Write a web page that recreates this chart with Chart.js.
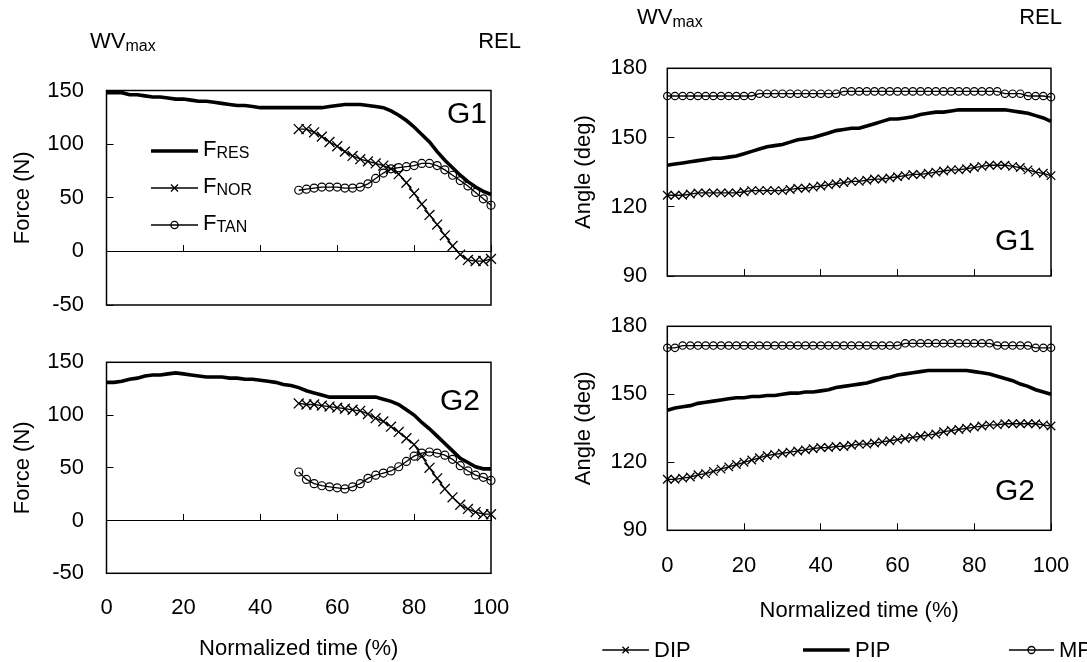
<!DOCTYPE html>
<html><head><meta charset="utf-8">
<script src="https://cdn.jsdelivr.net/npm/chart.js@4.4.1/dist/chart.umd.min.js"></script>
<style>
html,body{margin:0;padding:0;background:#fff;}
#wrap{position:relative;width:1087px;height:662px;overflow:hidden;font-family:"Liberation Sans",Arial,Helvetica,sans-serif;background:#fff;}
canvas{position:absolute;left:0;top:0;width:1200px;height:662px;}
.lbl{position:absolute;font-size:22px;line-height:22px;color:#000;white-space:nowrap;}
.lbl .sb{font-size:16px;position:relative;top:3px;}
</style></head><body>
<div id="wrap">
<canvas id="c1" width="1200" height="662"></canvas>
<canvas id="c2" width="1200" height="662"></canvas>
<canvas id="c3" width="1200" height="662"></canvas>
<canvas id="c4" width="1200" height="662"></canvas>
<div class="lbl" style="left:90px;top:30px">WV<span class="sb">max</span></div>
<div class="lbl" style="right:566px;top:30px">REL</div>
<div class="lbl" style="left:637px;top:6px">WV<span class="sb">max</span></div>
<div class="lbl" style="right:25px;top:6px">REL</div>
</div>
<script>
// ---------- data ----------
const TIME = [0,2,4,6,8,10,12,14,16,18,20,22,24,26,28,30,32,34,36,38,40,42,44,46,48,50,52,54,56,58,60,62,64,66,68,70,72,74,76,78,80,82,84,86,88,90,92,94,96,98,100];
const TIME_LATE = [50,52,54,56,58,60,62,64,66,68,70,72,74,76,78,80,82,84,86,88,90,92,94,96,98,100];
const X_TICKS = [0,20,40,60,80,100];

// Force, G1
const G1_FRES = [148,148,148,146,146,145,144,144,143,142,142,141,140,140,139,138,137,136,136,135,134,134,134,134,134,134,134,134,134,135,136,137,137,137,136,135,134,131,127,122,116,109,102,93,85,78,71,65,60,56,53];
const G1_FNOR = [114,114,111,107,102,98,93,89,86,84,82,80,77,72,64,54,44,34,25,15,5,-3,-8,-9,-9,-7];
const G1_FTAN = [57,58,59,60,60,60,59,59,60,63,68,73,77,78,79,80,82,82,80,76,71,66,61,55,49,43];
// Force, G2
const G2_FRES = [131,131,132,134,135,137,138,138,139,140,139,138,137,136,136,136,135,135,134,134,133,132,131,129,128,126,123,121,119,117,117,117,117,117,117,117,115,113,110,105,100,93,87,80,73,66,59,55,51,49,49];
const G2_FNOR = [111,110,110,109,108,107,106,105,104,101,97,94,89,84,78,72,61,50,40,30,22,15,11,8,6,6];
const G2_FTAN = [46,39,35,33,32,31,30,32,35,40,43,45,47,51,56,61,64,65,64,62,58,52,47,43,41,38];
// Angle, G1
const G1_DIP = [125,125,125,125.5,126,126,126,126,126,126,126.5,127,127,127,127,127,127.5,128,128,128.5,129,129.5,130,130.5,131,131,131.5,132,132,132.5,133,133.5,134,134,134.5,135,135.5,136,136,136.5,137,137.5,138,138,138,137.5,137,136,135,134.5,133.5];
const G1_PIP = [138,138.5,139,139.5,140,140.5,141,141,141.5,142,143,144,145,146,146.5,147,148,149,149.5,150,151,152,153,153.5,154,154,155,156,157,158,158,158.5,159,160,160.5,161,161,161.5,162,162,162,162,162,162,162,161.5,161,160.5,159.5,158.5,157];
const G1_MP = [168,168,168,168,168,168,168,168,168,168,168,168,169,169,169,169,169,169,169,169,169,169,169,170,170,170,170,170,170,170,170,170,170,170,170,170,170,170,170,170,170,170,170,170,169,169,169,168,168,168,167.5];
// Angle, G2
const G2_DIP = [112.5,112.5,113,113.5,114.5,115,116,117,118,119,120,121,122,123,123.5,124,124.5,125,125.5,126,126.5,126.5,127,127,127.5,128,128,128.5,129,129.5,130,130.5,131,131.5,132,132.5,133.5,134,134.5,135,135.5,136,136.5,136.5,137,137,137,137,137,136.5,136];
const G2_PIP = [143,144,144.5,145,146,146.5,147,147.5,148,148.5,148.5,149,149,149.5,149.5,150,150.5,150.5,151,151,151.5,152,153,153.5,154,154.5,155,156,157,157.5,158.5,159,159.5,160,160.5,160.5,160.5,160.5,160.5,160.5,160,159.5,159,158,157,156,154.5,153.5,152,151,150];
const G2_MP = [170.5,170.5,171.5,171.5,171.5,171.5,171.5,171.5,171.5,171.5,171.5,171.5,171.5,171.5,171.5,171.5,171.5,171.5,171.5,171.5,171.5,171.5,171.5,171.5,171.5,171.5,171.5,171.5,171.5,171.5,171.5,172.5,172.5,172.5,172.5,172.5,172.5,172.5,172.5,172.5,172.5,172.5,172.5,171.5,171.5,171.5,171.5,171.5,170.5,170.5,170.5];

// ---------- styling / helpers ----------
const FAM = '"Liberation Sans", Arial, Helvetica, sans-serif';
Chart.defaults.font.family = FAM;
Chart.defaults.font.size = 22;
Chart.defaults.color = '#000';
Chart.defaults.animation = false;
const FONT = {family: FAM, size: 22};
const CW = 1200; // canvas width (wider than the page; overflow is hidden)

function pts(xs, ys){ return xs.map((x,i)=>({x:x, y:ys[i]})); }

const thick = {borderColor:'#000', borderWidth:3.6, pointRadius:0, fill:false, tension:0, clip:false, xAxisID:'x', yAxisID:'y'};
function crossS(r){ return {borderColor:'#000', borderWidth:1.3, pointStyle:'crossRot', pointRadius:r, pointBorderColor:'#000', pointBorderWidth:1.3, fill:false, tension:0, clip:false, xAxisID:'x', yAxisID:'y'}; }
function circS(r){ return {borderColor:'#000', borderWidth:1.3, pointStyle:'circle', pointRadius:r, pointBackgroundColor:'rgba(0,0,0,0)', pointBorderColor:'#000', pointBorderWidth:1.2, fill:false, tension:0, clip:false, xAxisID:'x', yAxisID:'y'}; }
function inward(){ return {display:true, drawOnChartArea:false, drawTicks:true, tickLength:-7, color:'#000', tickColor:'#000', lineWidth:1, tickWidth:1}; }

function yScale(min, max, step, title, pad, width){
  return {type:'linear', position:'left', min:min, max:max,
    ticks:{stepSize:step, font:FONT, color:'#000', padding:pad},
    grid:inward(), border:{display:false},
    title:{display:true, text:title, font:FONT, color:'#000', padding:0},
    afterFit:(s)=>{ s.width = width; }};
}

const boxPlugin = {
  id:'panelBox',
  beforeDatasetsDraw(chart){
    const a = chart.chartArea, ctx = chart.ctx;
    ctx.save(); ctx.strokeStyle = '#000'; ctx.lineWidth = 1.5;
    ctx.strokeRect(a.left, a.top, a.right - a.left, a.bottom - a.top);
    ctx.restore();
  }
};

function drawMarker(ctx, type, x, y, r){
  ctx.beginPath();
  if (type === 'cross'){
    const d = r * Math.SQRT1_2;
    ctx.moveTo(x-d, y-d); ctx.lineTo(x+d, y+d);
    ctx.moveTo(x+d, y-d); ctx.lineTo(x-d, y+d);
  } else if (type === 'circle'){
    ctx.arc(x, y, r, 0, Math.PI*2);
  }
  ctx.stroke();
}

const decorPlugin = {
  id:'decor',
  afterDraw(chart, args, o){
    const a = chart.chartArea, ctx = chart.ctx;
    ctx.save();
    ctx.fillStyle = '#000'; ctx.strokeStyle = '#000';
    if (o.tag){
      ctx.font = o.tag.size + 'px ' + FAM;
      ctx.textAlign = 'left'; ctx.textBaseline = 'alphabetic';
      const ty = o.tag.fromTop ? a.top + o.tag.dy : a.bottom - o.tag.dy;
      ctx.fillText(o.tag.text, a.right + o.tag.dx, ty);
    }
    if (o.legend){
      const L = o.legend;
      const ox = a.left, oy = L.fromTop ? a.top : a.bottom;
      L.items.forEach(it => {
        const y = oy + it.dy;
        ctx.lineWidth = it.lw;
        ctx.beginPath(); ctx.moveTo(ox + it.x0, y); ctx.lineTo(ox + it.x1, y); ctx.stroke();
        if (it.marker){ ctx.lineWidth = 1.3; drawMarker(ctx, it.marker, ox + (it.x0 + it.x1)/2, y, it.r); }
        ctx.textAlign = 'left'; ctx.textBaseline = 'alphabetic';
        ctx.font = '22px ' + FAM;
        const bx = ox + it.tx, by = y + L.base;
        ctx.fillText(it.main, bx, by);
        if (it.sub){
          const w = ctx.measureText(it.main).width;
          ctx.font = '16px ' + FAM;
          ctx.fillText(it.sub, bx + w, by + 2);
        }
      });
    }
    ctx.restore();
  }
};

function baseOptions(){
  return {responsive:false, maintainAspectRatio:false, devicePixelRatio:1, animation:false, events:[]};
}
function plugs(decor){ return {legend:{display:false}, tooltip:{enabled:false}, decor:decor}; }

// ---------- Chart 1: Force G1 ----------
new Chart(document.getElementById('c1'), {
  type:'line',
  data:{datasets:[
    Object.assign({label:'FRES', data:pts(TIME, G1_FRES)}, thick),
    Object.assign({label:'FNOR', data:pts(TIME_LATE, G1_FNOR)}, crossS(7)),
    Object.assign({label:'FTAN', data:pts(TIME_LATE, G1_FTAN)}, circS(4))
  ]},
  options:Object.assign(baseOptions(), {
    layout:{padding:{left:9.8, top:90.5, right:CW-491, bottom:357}},
    scales:{
      x:{type:'linear', axis:'x', min:0, max:100, display:false},
      x0:{type:'linear', axis:'x', min:0, max:100, position:{y:0},
          ticks:{display:false, stepSize:20}, grid:inward(), border:{display:true, color:'#000', width:1}},
      y:yScale(-50, 150, 50, 'Force (N)', 29.5, 96.7)
    },
    plugins:plugs({
      tag:{text:'G1', size:30, dx:-44, dy:32.5, fromTop:true},
      legend:{fromTop:true, base:5, items:[
        {x0:44.5, x1:91.5, dy:60.5, lw:3.6, tx:96.5, main:'F', sub:'RES'},
        {x0:44.5, x1:91.5, dy:97.5, lw:1.3, marker:'cross', r:5, tx:96.5, main:'F', sub:'NOR'},
        {x0:44.5, x1:91.5, dy:134.5, lw:1.3, marker:'circle', r:3.6, tx:96.5, main:'F', sub:'TAN'}
      ]}
    })
  }),
  plugins:[boxPlugin, decorPlugin]
});

// ---------- Chart 2: Force G2 ----------
new Chart(document.getElementById('c2'), {
  type:'line',
  data:{datasets:[
    Object.assign({label:'FRES', data:pts(TIME, G2_FRES)}, thick),
    Object.assign({label:'FNOR', data:pts(TIME_LATE, G2_FNOR)}, crossS(7)),
    Object.assign({label:'FTAN', data:pts(TIME_LATE, G2_FTAN)}, circS(4))
  ]},
  options:Object.assign(baseOptions(), {
    layout:{padding:{left:9.8, top:362.3, right:CW-491, bottom:0}},
    scales:{
      x:{type:'linear', axis:'x', position:'bottom', min:0, max:100,
         afterBuildTicks:(s)=>{ s.ticks = X_TICKS.map(v=>({value:v})); },
         ticks:{font:FONT, color:'#000', padding:21},
         grid:{display:false, drawTicks:false}, border:{display:false},
         title:{display:true, text:'Normalized time (%)', font:FONT, color:'#000', padding:0},
         afterFit:(s)=>{ s.height = 88.7; }},
      x0:{type:'linear', axis:'x', min:0, max:100, position:{y:0},
          ticks:{display:false, stepSize:20}, grid:inward(), border:{display:true, color:'#000', width:1}},
      y:yScale(-50, 150, 50, 'Force (N)', 29.5, 96.7)
    },
    plugins:plugs({ tag:{text:'G2', size:30, dx:-51, dy:47.7, fromTop:true} })
  }),
  plugins:[boxPlugin, decorPlugin]
});

// ---------- Chart 3: Angle G1 ----------
new Chart(document.getElementById('c3'), {
  type:'line',
  data:{datasets:[
    Object.assign({label:'DIP', data:pts(TIME, G1_DIP)}, crossS(6)),
    Object.assign({label:'PIP', data:pts(TIME, G1_PIP)}, thick),
    Object.assign({label:'MP', data:pts(TIME, G1_MP)}, circS(3.7))
  ]},
  options:Object.assign(baseOptions(), {
    layout:{padding:{left:570.8, top:68.3, right:CW-1051, bottom:386}},
    scales:{
      x:{type:'linear', axis:'x', position:'bottom', min:0, max:100,
         ticks:{display:false, stepSize:20}, grid:inward(), border:{display:false},
         afterFit:(s)=>{ s.height = 0; }},
      y:yScale(90, 180, 30, 'Angle (deg)', 27, 96.5)
    },
    plugins:plugs({ tag:{text:'G1', size:30, dx:-56, dy:26, fromTop:false} })
  }),
  plugins:[boxPlugin, decorPlugin]
});

// ---------- Chart 4: Angle G2 ----------
new Chart(document.getElementById('c4'), {
  type:'line',
  data:{datasets:[
    Object.assign({label:'DIP', data:pts(TIME, G2_DIP)}, crossS(6)),
    Object.assign({label:'PIP', data:pts(TIME, G2_PIP)}, thick),
    Object.assign({label:'MP', data:pts(TIME, G2_MP)}, circS(3.7))
  ]},
  options:Object.assign(baseOptions(), {
    layout:{padding:{left:570.8, top:326.3, right:CW-1051, bottom:37.8}},
    scales:{
      x:{type:'linear', axis:'x', position:'bottom', min:0, max:100,
         afterBuildTicks:(s)=>{ s.ticks = X_TICKS.map(v=>({value:v})); },
         ticks:{font:FONT, color:'#000', padding:29.5}, grid:inward(), border:{display:false},
         title:{display:true, text:'Normalized time (%)', font:FONT, color:'#000', padding:0},
         afterFit:(s)=>{ s.height = 93.9; }},
      y:yScale(90, 180, 30, 'Angle (deg)', 27, 96.5)
    },
    plugins:plugs({
      tag:{text:'G2', size:30, dx:-56, dy:30.6, fromTop:false},
      legend:{fromTop:false, base:7, items:[
        {x0:-65, x1:-18.3, dy:119.7, lw:1.3, marker:'cross', r:4.5, tx:-13.3, main:'DIP'},
        {x0:135.7, x1:182.4, dy:119.7, lw:3.6, tx:187.7, main:'PIP'},
        {x0:341.7, x1:386.7, dy:119.7, lw:1.3, marker:'circle', r:3.5, tx:391.7, main:'MP'}
      ]}
    })
  }),
  plugins:[boxPlugin, decorPlugin]
});
</script>
</body></html>
